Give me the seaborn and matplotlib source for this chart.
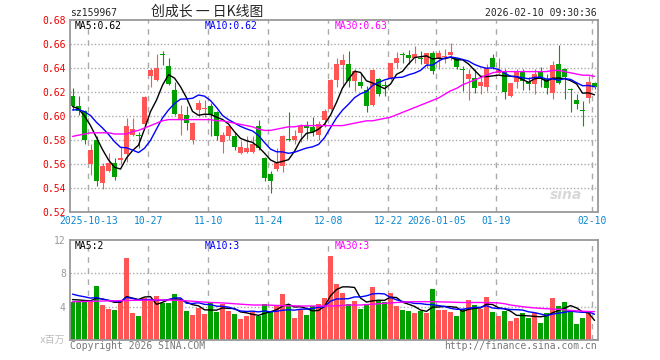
import numpy as np
import pandas as pd
import seaborn as sns
import matplotlib.pyplot as plt

# daily K-line of 创成长 (sz159967), one entry per trading day, oldest first
opens = [0.617, 0.608, 0.604, 0.560, 0.580, 0.544, 0.554, 0.561, 0.563, 0.568,
         0.584, 0.584, 0.593, 0.633, 0.630, 0.652, 0.642, 0.622, 0.597, 0.601,
         0.580, 0.605, 0.6055, 0.608, 0.603, 0.578, 0.583, 0.583, 0.569, 0.570,
         0.570, 0.592, 0.565, 0.552, 0.556, 0.558, 0.5805, 0.580, 0.586, 0.592,
         0.591, 0.584, 0.597, 0.606, 0.630, 0.6425, 0.643, 0.629, 0.628, 0.622,
         0.609, 0.631, 0.626, 0.6306, 0.644, 0.651, 0.6506, 0.6486, 0.6486, 0.6431,
         0.6528, 0.6472, 0.649, 0.6506, 0.648, 0.6383, 0.6306, 0.632, 0.625, 0.6244,
         0.648, 0.636, 0.6375, 0.6167, 0.6283, 0.6375, 0.6283, 0.6264, 0.6369, 0.6306,
         0.6194, 0.6431, 0.6389, 0.6222, 0.6131, 0.604, 0.6147, 0.6272]
highs = [0.623, 0.617, 0.605, 0.577, 0.583, 0.561, 0.569, 0.565, 0.574, 0.598,
         0.598, 0.587, 0.617, 0.640, 0.652, 0.654, 0.648, 0.628, 0.609, 0.608,
         0.595, 0.613, 0.613, 0.611, 0.604, 0.587, 0.5925, 0.587, 0.579, 0.583,
         0.583, 0.597, 0.566, 0.554, 0.573, 0.584, 0.603, 0.588, 0.593, 0.596,
         0.599, 0.596, 0.606, 0.6305, 0.648, 0.652, 0.654, 0.639, 0.636, 0.625,
         0.6395, 0.632, 0.629, 0.6444, 0.653, 0.653, 0.6547, 0.658, 0.654, 0.6528,
         0.654, 0.655, 0.6556, 0.661, 0.6486, 0.642, 0.639, 0.639, 0.633, 0.643,
         0.652, 0.6486, 0.639, 0.6278, 0.639, 0.639, 0.6325, 0.639, 0.641, 0.6353,
         0.6458, 0.659, 0.6403, 0.6236, 0.618, 0.6125, 0.6333, 0.628]
lows = [0.605, 0.601, 0.577, 0.551, 0.542, 0.539, 0.553, 0.547, 0.560, 0.562,
        0.583, 0.573, 0.5925, 0.624, 0.629, 0.6425, 0.626, 0.601, 0.584, 0.588,
        0.577, 0.599, 0.599, 0.583, 0.580, 0.569, 0.580, 0.572, 0.568, 0.569,
        0.569, 0.572, 0.546, 0.536, 0.554, 0.553, 0.579, 0.577, 0.578, 0.581,
        0.583, 0.580, 0.591, 0.605, 0.624, 0.624, 0.624, 0.621, 0.623, 0.603,
        0.608, 0.617, 0.617, 0.630, 0.640, 0.6444, 0.643, 0.6444, 0.643, 0.6403,
        0.635, 0.639, 0.644, 0.647, 0.6394, 0.621, 0.613, 0.619, 0.6186, 0.621,
        0.639, 0.635, 0.614, 0.6158, 0.6236, 0.622, 0.622, 0.6186, 0.6244, 0.6186,
        0.6139, 0.627, 0.6139, 0.6033, 0.6056, 0.5917, 0.6111, 0.6228]
closes = [0.608, 0.604, 0.580, 0.572, 0.546, 0.558, 0.561, 0.549, 0.565, 0.592,
          0.589, 0.5835, 0.616, 0.638, 0.640, 0.651, 0.627, 0.602, 0.602, 0.594,
          0.594, 0.611, 0.6065, 0.601, 0.583, 0.584, 0.592, 0.574, 0.574, 0.573,
          0.577, 0.573, 0.548, 0.546, 0.561, 0.583, 0.580, 0.583, 0.592, 0.590,
          0.587, 0.593, 0.604, 0.630, 0.643, 0.647, 0.629, 0.6375, 0.625, 0.608,
          0.638, 0.618, 0.625, 0.644, 0.6486, 0.6505, 0.6486, 0.652, 0.6472, 0.6522,
          0.6375, 0.6522, 0.6497, 0.6533, 0.641, 0.638, 0.6347, 0.6236, 0.628, 0.6397,
          0.641, 0.638, 0.620, 0.6272, 0.6375, 0.6292, 0.6264, 0.6347, 0.6306, 0.6231,
          0.6425, 0.6272, 0.6325, 0.6219, 0.6097, 0.6039, 0.6283, 0.6244]
# closes of the days just before the window, only used to start the moving averages
pre_close = [0.600, 0.598, 0.604, 0.603, 0.605, 0.614, 0.610, 0.612, 0.596]
price_ma30 = [0.583, 0.584, 0.585, 0.586, 0.586, 0.586, 0.586, 0.585, 0.585, 0.585,
              0.587, 0.588, 0.590, 0.592, 0.594, 0.596, 0.597, 0.597, 0.597, 0.597,
              0.597, 0.597, 0.597, 0.597, 0.596, 0.596, 0.595, 0.594, 0.593, 0.592,
              0.591, 0.589, 0.588, 0.588, 0.589, 0.590, 0.591, 0.591, 0.592, 0.592,
              0.592, 0.592, 0.592, 0.592, 0.592, 0.592, 0.593, 0.594, 0.595, 0.596,
              0.596, 0.597, 0.598, 0.599, 0.601, 0.603, 0.605, 0.607, 0.609, 0.611,
              0.613, 0.615, 0.618, 0.621, 0.623, 0.626, 0.628, 0.630, 0.632, 0.634,
              0.636, 0.637, 0.637, 0.637, 0.637, 0.637, 0.637, 0.637, 0.637, 0.637,
              0.638, 0.638, 0.637, 0.636, 0.635, 0.634, 0.634, 0.633]

# volume in millions
volumes = [4.6, 4.68, 4.68, 4.6, 6.48, 4.2, 3.72, 3.6, 4.68, 9.88,
           3.28, 2.88, 5.08, 4.88, 5.28, 4.48, 4.48, 5.52, 4.72, 3.48,
           3.0, 3.8, 3.12, 4.6, 3.4, 4.32, 3.48, 3.12, 2.52, 2.88,
           3.4, 2.88, 4.32, 3.48, 4.08, 5.52, 4.08, 2.64, 3.68, 3.0,
           4.08, 4.32, 5.08, 10.08, 6.72, 5.68, 4.32, 4.72, 3.72, 4.32,
           6.4, 4.72, 4.6, 5.68, 4.08, 3.6, 3.52, 3.28, 3.52, 3.28,
           6.12, 3.6, 3.6, 3.4, 2.88, 3.68, 4.8, 4.2, 3.68, 5.2,
           3.4, 2.88, 3.52, 2.32, 2.68, 3.28, 2.68, 3.2, 2.08, 3.28,
           5.08, 4.08, 4.6, 3.6, 1.92, 2.68, 3.4, 0.16]
pre_volume = [6.5, 6.0, 6.2, 5.8, 6.25, 4.9, 5.0, 4.8, 4.95]
vol_ma30 = [4.6, 4.6, 4.62, 4.64, 4.66, 4.68, 4.7, 4.7, 4.72, 4.74,
            4.76, 4.76, 4.78, 4.78, 4.8, 4.8, 4.8, 4.78, 4.76, 4.7,
            4.65, 4.6, 4.55, 4.5, 4.48, 4.45, 4.4, 4.35, 4.3, 4.25,
            4.2, 4.2, 4.2, 4.18, 4.15, 4.12, 4.1, 4.1, 4.08, 4.08,
            4.08, 4.08, 4.08, 4.08, 4.1, 4.15, 4.2, 4.2, 4.2, 4.25,
            4.3, 4.35, 4.4, 4.45, 4.5, 4.55, 4.58, 4.6, 4.6, 4.6,
            4.6, 4.58, 4.56, 4.55, 4.52, 4.5, 4.5, 4.5, 4.5, 4.48,
            4.48, 4.45, 4.35, 4.2, 4.1, 4.0, 3.92, 3.85, 3.8, 3.75,
            3.72, 3.68, 3.62, 3.55, 3.5, 3.45, 3.42, 3.4]

tick_idx = [3, 13, 23, 33, 43, 53, 61, 71, 87]
tick_labels = ["2025-10-13", "10-27", "11-10", "11-24", "12-08",
               "12-22", "2026-01-05", "01-19", "02-10"]

RED = "#ff5555"
GREEN = "#00a000"
GRID = "#aaaaaa"
W, H = 660, 360

sns.set_theme(style="white")
plt.rcParams["font.family"] = ["DejaVu Sans Mono", "Noto Sans CJK SC"]

n = len(closes)
idx = np.arange(n)
o = np.array(opens)
c = np.array(closes)
side = np.where(c >= o, "up", "down")
colors = [RED if s == "up" else GREEN for s in side]

ma5 = pd.Series(pre_close + closes).rolling(5).mean().values[len(pre_close):]
ma10 = pd.Series(pre_close + closes).rolling(10).mean().values[len(pre_close):]
vma5 = pd.Series(pre_volume + volumes).rolling(5).mean().values[len(pre_volume):]
vma10 = pd.Series(pre_volume + volumes).rolling(10).mean().values[len(pre_volume):]

fig = plt.figure(figsize=(W / 100, H / 100), dpi=100)
ax = fig.add_axes([70 / W, 1 - 212 / H, 528 / W, 192 / H])
axv = fig.add_axes([70 / W, 1 - 340 / H, 528 / W, 100 / H])

# candles
ax.vlines(idx, lows, highs, colors=colors, lw=0.8, zorder=2)
ax.bar(idx, np.maximum(np.abs(c - o), 0.0008), bottom=np.minimum(o, c),
       width=0.83, color=colors, linewidth=0, zorder=2)
sns.lineplot(x=idx, y=ma5, ax=ax, color="black", lw=1, zorder=3)
sns.lineplot(x=idx, y=ma10, ax=ax, color="#0000ff", lw=1, zorder=3)
sns.lineplot(x=idx, y=price_ma30, ax=ax, color="#ff00ff", lw=1, zorder=3)

# volume
sns.barplot(x=idx, y=volumes, hue=side, palette={"up": RED, "down": GREEN},
            native_scale=True, dodge=False, width=0.83, saturation=1,
            linewidth=0, legend=False, ax=axv, zorder=2)
sns.lineplot(x=idx, y=vma5, ax=axv, color="black", lw=1, zorder=3)
sns.lineplot(x=idx, y=vma10, ax=axv, color="#0000ff", lw=1, zorder=3)
sns.lineplot(x=idx, y=vol_ma30, ax=axv, color="#ff00ff", lw=1, zorder=3)

for a in (ax, axv):
    a.set_xlim(-0.42, n - 0.42)
    a.set_xlabel("")
    a.set_ylabel("")
    a.tick_params(length=0, labelsize=7, pad=3)
    for s in a.spines.values():
        s.set_color("#999999")
        s.set_linewidth(1.3)
    for t in tick_idx:
        a.axvline(t - 0.37, color=GRID, lw=1, ls=(0, (4, 4)), zorder=0)

ax.set_ylim(0.52, 0.68)
yt = [0.52, 0.54, 0.56, 0.58, 0.60, 0.62, 0.64, 0.66, 0.68]
ax.set_yticks(yt)
ax.set_yticklabels([f"{v:.2f}" for v in yt], color="#ee0000")
for v in yt[1:-1]:
    ax.axhline(v, color=GRID, lw=1, ls=(0, (1, 1.5)), zorder=0)
ax.set_xticks([t - 0.37 for t in tick_idx])
ax.set_xticklabels(tick_labels, color="#0a88d0")

axv.set_ylim(0, 12)
axv.set_yticks([4, 8, 12])
axv.set_yticklabels(["4", "8", "12"], color="#999999")
axv.set_xticks([])
for v in [4, 8]:
    axv.axhline(v, color=GRID, lw=1, ls=(0, (1, 1.5)), zorder=0)

ax.text(0.97, 0.09, "sina", transform=ax.transAxes, ha="right", va="center",
        fontsize=10, style="italic", weight="bold", color="#d8d8d8",
        family="DejaVu Sans", zorder=1)


def put(x, y, s, **kw):
    kw.setdefault("fontsize", 7)
    kw.setdefault("va", "center")
    fig.text(x / W, 1 - y / H, s, **kw)


put(70, 13, "sz159967")
put(207, 12, "创成长 一 日K线图", ha="center", fontsize=10,
    family=["Noto Sans CJK SC", "DejaVu Sans"])
put(597, 13, "2026-02-10 09:30:36", ha="right")

put(75, 26, f"MA5:{ma5[-1]:.2f}", color="black")
put(205, 26, f"MA10:{ma10[-1]:.2f}", color="#0000ff")
put(335, 26, f"MA30:{price_ma30[-1]:.2f}", color="#ff00ff")

put(75, 246, f"MA5:{vma5[-1]:.0f}", color="black")
put(205, 246, f"MA10:{vma10[-1]:.0f}", color="#0000ff")
put(335, 246, f"MA30:{vol_ma30[-1]:.0f}", color="#ff00ff")

put(65, 340, "x百万", ha="right", color="#bbbbbb")
put(70, 346, "Copyright 2026 SINA.COM", color="#777777")
put(597, 346, "http://finance.sina.com.cn", ha="right", color="#777777")

fig.savefig("out.png", dpi=100)
